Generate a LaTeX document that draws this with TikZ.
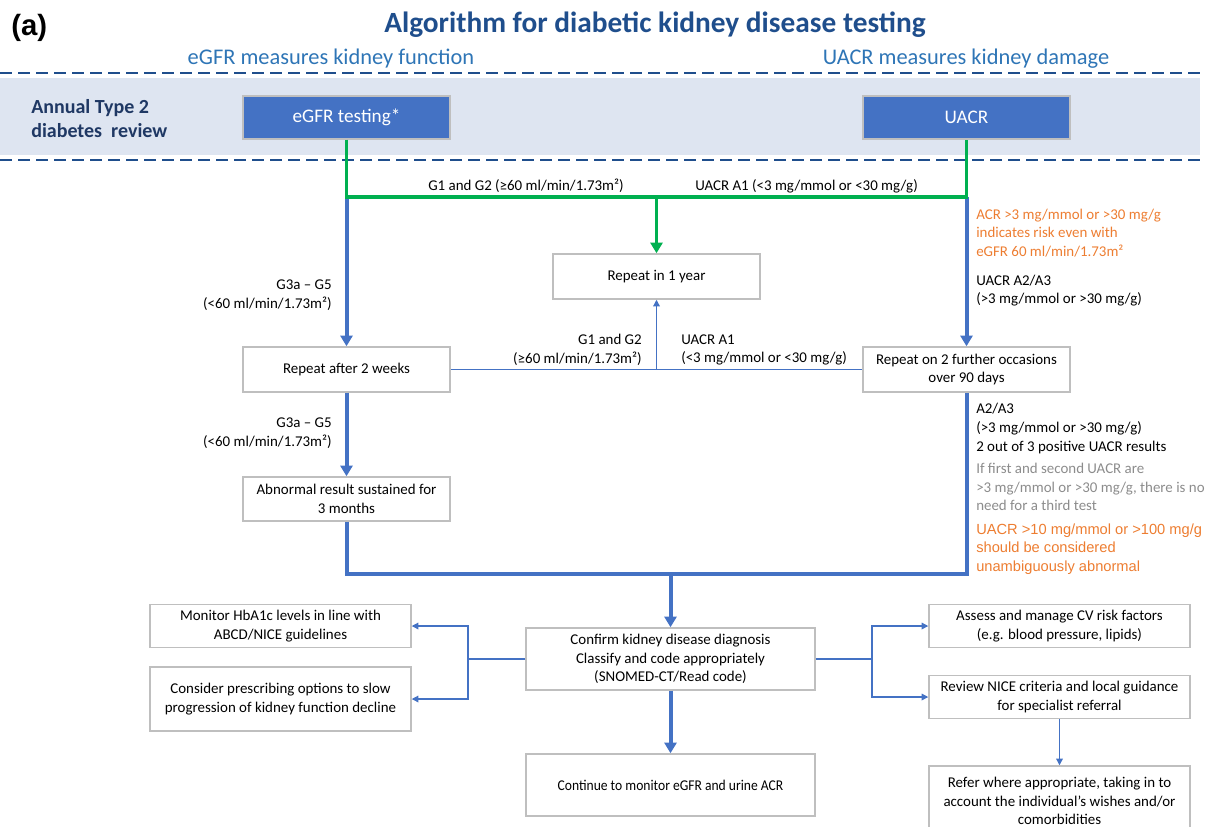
\documentclass[tikz,border=0pt]{standalone}
\usepackage{fontspec}
\setmainfont{Carlito}
\newfontfamily\arialfont{Liberation Sans}
\usetikzlibrary{arrows.meta}
\definecolor{boxblue}{RGB}{68,114,196}
\definecolor{boxgray}{RGB}{191,191,191}
\definecolor{okgreen}{RGB}{0,176,80}
\definecolor{titleblue}{RGB}{31,78,140}
\definecolor{navy}{RGB}{31,56,100}
\definecolor{bandblue}{RGB}{222,229,241}
\definecolor{headblue}{RGB}{46,117,182}
\definecolor{warnorange}{RGB}{237,125,49}
\definecolor{notegray}{RGB}{140,140,140}
\newcommand{\bodyfont}{\fontsize{11.2}{13.9}\selectfont}
\begin{document}
\begin{tikzpicture}[x=0.75pt,y=-0.75pt,
    box/.style={draw=boxgray,line width=1.1pt,fill=white,align=center,inner sep=0pt,font=\bodyfont},
    testbox/.style={box,fill=boxblue,text=white,font=\fontsize{14.4}{16}\selectfont},
    cond/.style={inner sep=0pt,font=\bodyfont},
    note/.style={anchor=west,align=left,inner sep=0pt,font=\bodyfont},
    mainline/.style={boxblue,line width=3pt},
    main/.style={mainline,-{Triangle[width=9pt,length=8pt]}},
    okpath/.style={okgreen,line width=2.3pt},
    link/.style={boxblue,line width=0.9pt,-{Triangle[width=5pt,length=5pt]}}]
  \useasboundingbox (0,0) rectangle (1213,826);
  \clip (0,0) rectangle (1213,826);
  \fill[bandblue] (0,78) rectangle (1200,155);
  \draw[titleblue,line width=2.2pt,dash pattern=on 9pt off 4.5pt] (0,73) -- (1200,73);
  \draw[titleblue,line width=2.2pt,dash pattern=on 9pt off 4.5pt] (0,160) -- (1200,160);
  \node[anchor=base west,inner sep=0pt,font=\arialfont\bfseries\fontsize{22}{24}\selectfont] (panel) at (11,35) {(a)};
  \node[anchor=base,inner sep=0pt,text=titleblue,font=\bfseries\fontsize{22}{25}\selectfont] (title) at (655,32) {Algorithm for diabetic kidney disease testing};
  \node[anchor=base,inner sep=0pt,text=headblue,font=\fontsize{16.8}{19}\selectfont] (gfrhead) at (331,64) {eGFR measures kidney function};
  \node[anchor=base,inner sep=0pt,text=headblue,font=\fontsize{16.8}{19}\selectfont] (acrhead) at (966,64) {UACR measures kidney damage};
  \node[note,text=navy,font=\bfseries\fontsize{15}{18}\selectfont] (annual) at (31,119) {Annual Type 2\\diabetes\ \ review};
  \node[testbox,minimum width=155.25pt,minimum height=32.25pt] (egfr) at (346.5,117.5) {eGFR testing*};
  \node[testbox,minimum width=155.25pt,minimum height=32.25pt] (uacr) at (966.5,117.5) {UACR};
  \node[box,minimum width=155.25pt,minimum height=33.75pt] (year) at (656.5,276.5) {Repeat in 1 year};
  \node[box,minimum width=155.25pt,minimum height=33.75pt] (twoweeks) at (346.5,369.5) {Repeat after 2 weeks};
  \node[box,minimum width=155.25pt,minimum height=33.75pt] (further) at (966.5,369.5) {Repeat on 2 further occasions\\over 90 days};
  \node[box,minimum width=155.25pt,minimum height=33pt] (abnormal) at (346.5,499) {Abnormal result sustained for\\3 months};
  \node[box,minimum width=216.75pt,minimum height=46.5pt] (confirm) at (670.5,659) {Confirm kidney disease diagnosis\\Classify and code appropriately\\(SNOMED-CT/Read code)};
  \node[box,minimum width=216.75pt,minimum height=46.5pt] (monitorgfr) at (670.5,785) {\scalebox{0.91}[1]{Continue to monitor eGFR and urine ACR}};
  \node[box,minimum width=195.75pt,minimum height=32.25pt] (hba1c) at (280.5,626) {Monitor HbA1c levels in line with\\ABCD/NICE guidelines};
  \node[box,minimum width=195.75pt,minimum height=48pt] (slowing) at (280.5,699) {Consider prescribing options to slow\\progression of kidney function decline};
  \node[box,minimum width=195.75pt,minimum height=32.25pt] (cvrisk) at (1059.5,626) {Assess and manage CV risk factors\\(e.g. blood pressure, lipids)};
  \node[box,minimum width=195.75pt,minimum height=32.25pt] (review) at (1059.5,697) {Review NICE criteria and local guidance\\for specialist referral};
  \node[box,minimum width=195.75pt,minimum height=52.5pt] (refer) at (1059.5,801) {Refer where appropriate, taking in to\\account the individual’s wishes and/or\\comorbidities};
  \coordinate (gjoin) at (656.5,197);
  \coordinate (bjoin) at (670.5,574);
  \coordinate (lfork) at (468,659);
  \coordinate (rfork) at (872,659);
  \draw[main] (egfr.south |- gjoin) -- (twoweeks.north);
  \draw[main] (uacr.south |- gjoin) -- (further.north);
  \draw[okpath] (egfr.south) -- (egfr.south |- gjoin) -- (uacr.south |- gjoin) -- (uacr.south);
  \draw[okpath,-{Triangle[width=9pt,length=8pt]}] (gjoin) -- (year.north);
  \draw[link,-] (twoweeks.east) -- (further.west);
  \draw[link] (year.south |- twoweeks.east) -- (year.south);
  \draw[main] (twoweeks.south) -- (abnormal.north);
  \draw[mainline] (abnormal.south) |- (bjoin) -| (further.south);
  \draw[main] (bjoin) -- (confirm.north);
  \draw[main] (confirm.south) -- (monitorgfr.north);
  \draw[link,-] (confirm.west) -- (lfork);
  \draw[link] (lfork) |- (hba1c.east);
  \draw[link] (lfork) |- (slowing.east);
  \draw[link,-] (confirm.east) -- (rfork);
  \draw[link] (rfork) |- (cvrisk.west);
  \draw[link] (rfork) |- (review.west);
  \draw[link] (review.south) -- (refer.north);
  \node[cond,anchor=base east] (g12top) at (624,190) {G1 and G2 (≥60 ml/min/1.73m²)};
  \node[cond,anchor=base west] (a1top) at (695,190) {UACR A1 (<3 mg/mmol or <30 mg/g)};
  \node[cond,anchor=east,align=right] (g35top) at (332,295) {G3a – G5\\(<60 ml/min/1.73m²)};
  \node[cond,anchor=east,align=right] (g12mid) at (642,350) {G1 and G2\\(≥60 ml/min/1.73m²)};
  \node[cond,anchor=west,align=left] (a1mid) at (681,350) {UACR A1\\(<3 mg/mmol or <30 mg/g)};
  \node[cond,anchor=east,align=right] (g35low) at (332,433) {G3a – G5\\(<60 ml/min/1.73m²)};
  \node[note,text=warnorange] (risk) at (976,233) {ACR >3 mg/mmol or >30 mg/g\\indicates risk even with\\eGFR 60 ml/min/1.73m²};
  \node[note] (a23top) at (976,290.5) {UACR A2/A3\\(>3 mg/mmol or >30 mg/g)};
  \node[note] (a23low) at (976,428.5) {A2/A3\\(>3 mg/mmol or >30 mg/g)\\2 out of 3 positive UACR results};
  \node[note,text=notegray] (third) at (976,487) {If first and second UACR are\\>3 mg/mmol or >30 mg/g, there is no\\need for a third test};
  \node[note,text=warnorange,font=\arialfont\fontsize{11}{13.9}\selectfont] (abnormalacr) at (976,549) {UACR >10 mg/mmol or >100 mg/g\\should be considered\\unambiguously abnormal};
\end{tikzpicture}
\end{document}
